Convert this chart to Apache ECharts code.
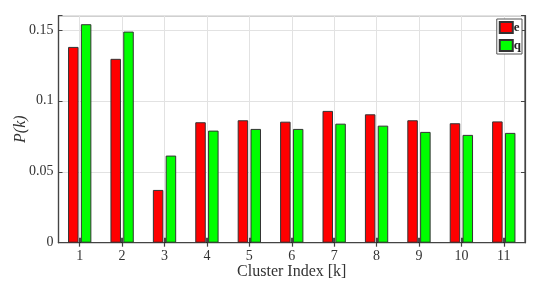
<!DOCTYPE html>
<html><head><meta charset="utf-8">
<script src="https://cdn.jsdelivr.net/npm/echarts@6/dist/echarts.min.js"></script>
<style>html,body{margin:0;padding:0;background:#fff}#c{width:556px;height:287px}</style>
</head><body><div id="c"></div>
<script>
const categories = ['1','2','3','4','5','6','7','8','9','10','11'];
const seriesE = [0.138, 0.1296, 0.0372, 0.0849, 0.0863, 0.0853, 0.0929, 0.0905, 0.0863, 0.0842, 0.0855];
const seriesQ = [0.154, 0.1488, 0.0614, 0.0790, 0.0802, 0.0802, 0.0839, 0.0825, 0.0781, 0.0760, 0.0774];
const yTicks = [0, 0.05, 0.1, 0.15];

const font = 'Liberation Serif';
// half-step positions: boundary, center, boundary, ... used only for vertical grid lines at category centres
const halfSteps = [''];
categories.forEach(c => { halfSteps.push(c); halfSteps.push(''); });

const chart = echarts.init(document.getElementById('c'));
const fmtY = v => (yTicks.includes(Math.round(v*100)/100) ? String(Math.round(v*100)/100) : '');
chart.setOption({
  animation: false,
  grid: {left: 58.5, top: 15.7, right: 31, bottom: 44.3, outerBoundsMode: 'none', containLabel: false,
         show: true, borderColor: '#444', borderWidth: 1.2},
  legend: {
    show: true, orient: 'vertical', right: 34, top: 19,
    itemWidth: 13, itemHeight: 11, itemGap: 5,
    padding: [2, 1, 2, 2],
    icon: 'rect',
    borderColor: '#555', borderWidth: 1, backgroundColor: '#fff',
    textStyle: {fontFamily: font, fontWeight: 'bold', fontSize: 13, color: '#222', padding: [0,0,0,-4]},
    data: ['e', 'q']
  },
  xAxis: [{
    type: 'category', data: categories, position: 'bottom',
    axisLine: {show: true, lineStyle: {color: '#444', width: 1.2}},
    axisTick: {show: true, inside: true, alignWithLabel: true, length: 5, lineStyle: {color: '#111', width: 1.5}},
    axisLabel: {fontFamily: font, fontSize: 14, color: '#333', margin: 7},
    splitLine: {show: false},
    name: 'Cluster Index [k]', nameLocation: 'middle', nameGap: 21, nameMoveOverlap: false,
    nameTextStyle: {fontFamily: font, fontSize: 16, color: '#333'}
  }, {
    type: 'category', data: categories, position: 'top',
    axisLine: {show: true, lineStyle: {color: '#444', width: 1.2}},
    axisTick: {show: true, inside: true, alignWithLabel: true, length: 4, lineStyle: {color: '#444', width: 1.2}},
    axisLabel: {show: false}
  }, {
    type: 'category', data: halfSteps, boundaryGap: false, position: 'bottom',
    axisLine: {show: false}, axisTick: {show: false}, axisLabel: {show: false},
    splitLine: {show: true, interval: (i) => i % 2 === 1, lineStyle: {color: '#e2e2e2', width: 1}}
  }],
  yAxis: [{
    type: 'value', min: 0, max: 0.16, interval: 0.05, position: 'left',
    axisLine: {show: true, lineStyle: {color: '#444', width: 1.2}},
    axisTick: {show: true, inside: true, length: 4, lineStyle: {color: '#444'}},
    axisLabel: {fontFamily: font, fontSize: 14, color: '#333', margin: 5, formatter: fmtY},
    splitLine: {show: true, lineStyle: {color: '#e2e2e2', width: 1}},
    name: 'P(k)', nameLocation: 'middle', nameGap: 30, nameRotate: 90, nameMoveOverlap: false,
    nameTextStyle: {fontFamily: font, fontStyle: 'italic', fontSize: 16, color: '#333'}
  }, {
    type: 'value', min: 0, max: 0.16, interval: 0.05, position: 'right',
    axisLine: {show: true, lineStyle: {color: '#444', width: 1.2}},
    axisTick: {show: true, inside: true, length: 4, lineStyle: {color: '#444'}},
    axisLabel: {show: false}, splitLine: {show: false}
  }],
  series: [
    {name: 'e', type: 'bar', data: seriesE, barWidth: 10.5, barGap: '22%',
     itemStyle: {color: '#ff0000', borderColor: '#333', borderWidth: 1}},
    {name: 'q', type: 'bar', data: seriesQ, barWidth: 10.5, barGap: '22%',
     itemStyle: {color: '#00ff00', borderColor: '#333', borderWidth: 1}}
  ]
});
</script></body></html>
